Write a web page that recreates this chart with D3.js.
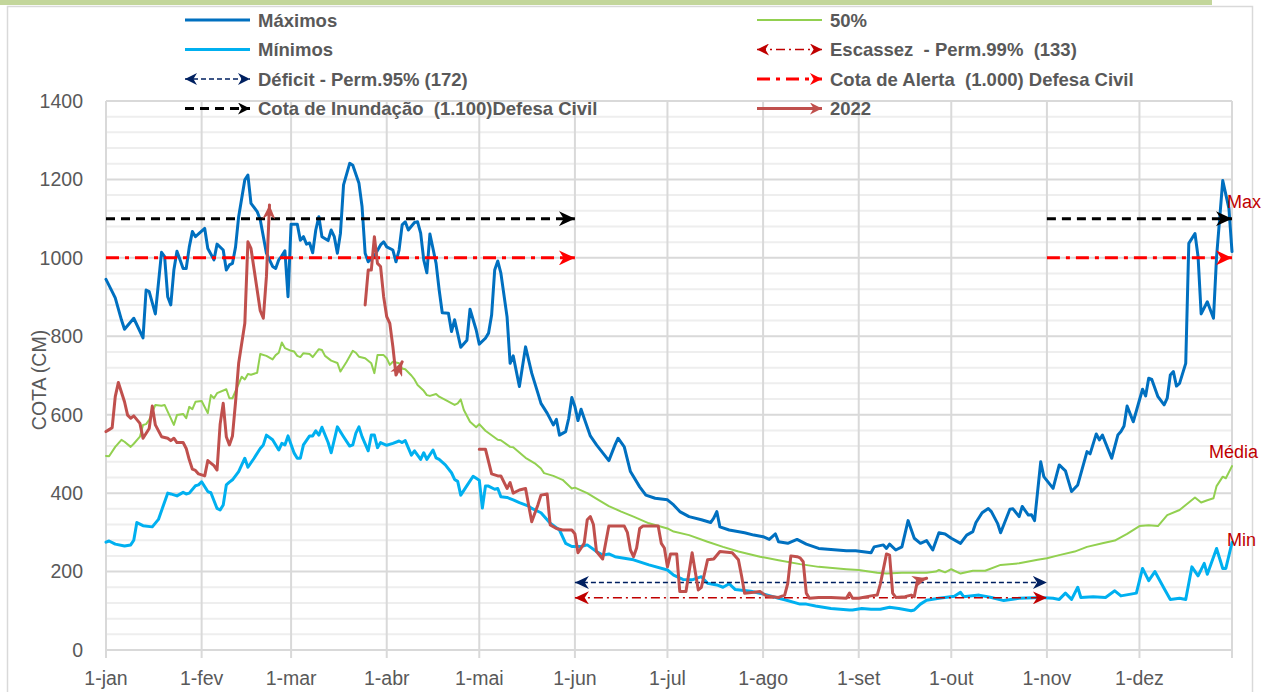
<!DOCTYPE html>
<meta charset="utf-8">
<style>
  html, body { margin: 0; padding: 0; background: #fff; }
  svg { display: block; font-family: "Liberation Sans", Arial, sans-serif; }
  .tick-label { fill: #595959; font-size: 19.5px; }
  .legend-text { fill: #595959; font-size: 18.5px; font-weight: bold; white-space: pre; font-family: "Liberation Sans Narrow", "Arial Narrow", "Liberation Sans", sans-serif; }
  .series { fill: none; stroke-linejoin: round; stroke-linecap: round; }
</style>
<body>
</body>
<script src="https://cdn.jsdelivr.net/npm/d3@7"></script>
<script>

  var width = 1268;
  var height = 692;

  // month labels (pt-BR)
  var meses = ["jan", "fev", "mar", "abr", "mai", "jun", "jul", "ago", "set", "out", "nov", "dez"];
  var yTicks = [0, 200, 400, 600, 800, 1000, 1200, 1400];

  // [day of year, cota cm]
  var maximos = [[0,945],[2,914],[3,898],[5,842],[6,818],[9,846],[12,796],[13,918],[14,914],[16,857],[18,1014],[19,1003],[20,901],[21,880],[22,969],[23,1017],[25,973],[26,973],[27,1028],[28,1067],[29,1054],[32,1075],[33,1024],[35,995],[36,1035],[38,1020],[39,969],[40,982],[41,986],[42,1028],[43,1105],[45,1199],[46,1211],[47,1139],[49,1118],[50,1097],[52,1012],[54,978],[55,973],[56,995],[57,1005],[58,1018],[59,901],[60,1086],[62,1086],[63,1045],[64,1054],[65,1035],[66,1038],[67,1013],[68,1071],[69,1105],[70,1054],[72,1044],[73,1071],[74,1054],[75,1012],[76,1063],[77,1186],[79,1241],[80,1236],[82,1190],[83,1131],[84,1012],[85,990],[87,1005],[89,1033],[90,1041],[91,1028],[93,1020],[94,990],[95,1020],[96,1084],[97,1092],[98,1071],[100,1090],[101,1092],[102,1063],[103,995],[104,962],[105,1061],[107,986],[108,918],[109,860],[111,859],[112,812],[113,842],[115,772],[117,790],[118,869],[120,816],[121,780],[123,795],[124,808],[125,854],[126,969],[127,992],[128,961],[130,850],[131,731],[132,750],[134,672],[136,773],[138,706],[140,655],[141,629],[143,604],[145,574],[146,588],[147,548],[149,557],[150,591],[151,644],[152,621],[153,585],[154,614],[155,591],[157,546],[159,523],[163,483],[165,523],[166,540],[168,518],[170,455],[173,416],[175,395],[178,387],[182,383],[184,370],[186,353],[189,340],[193,332],[196,325],[197,336],[198,353],[199,314],[202,306],[207,299],[210,293],[213,289],[215,282],[217,296],[218,276],[221,272],[224,282],[227,270],[231,259],[240,253],[243,253],[248,248],[249,263],[252,268],[253,259],[254,270],[256,255],[258,263],[260,330],[262,285],[264,272],[266,279],[268,255],[270,299],[272,296],[274,285],[277,272],[279,293],[281,302],[282,325],[284,350],[286,361],[287,353],[289,323],[290,299],[293,359],[294,360],[296,340],[297,366],[299,344],[300,345],[301,330],[303,480],[304,442],[307,412],[309,472],[311,457],[313,404],[315,421],[318,506],[319,500],[321,551],[322,536],[323,548],[326,489],[328,548],[329,557],[330,571],[331,622],[333,582],[336,665],[337,648],[338,693],[339,690],[341,646],[343,625],[344,642],[345,701],[346,710],[347,673],[348,680],[350,731],[351,1037],[353,1062],[354,1003],[355,857],[357,888],[359,846],[360,1003],[362,1197],[364,1126],[365,1016]];

  var minimos = [[0,275],[1,278],[3,270],[6,265],[8,268],[9,280],[10,325],[12,317],[15,314],[17,333],[20,400],[21,398],[23,393],[25,402],[26,398],[27,400],[29,419],[30,421],[31,429],[33,404],[34,401],[36,361],[37,357],[38,370],[39,421],[40,428],[41,434],[43,455],[45,489],[46,466],[48,489],[50,514],[51,523],[52,548],[54,536],[56,510],[57,527],[58,523],[59,546],[61,502],[62,489],[63,489],[64,523],[66,546],[67,546],[68,559],[69,548],[70,568],[72,529],[73,503],[75,569],[77,544],[79,520],[80,523],[81,553],[82,569],[83,544],[85,508],[86,548],[87,548],[88,516],[89,529],[91,522],[93,527],[95,533],[96,529],[97,534],[99,497],[100,508],[102,486],[103,503],[104,486],[106,510],[107,490],[108,486],[110,472],[112,452],[113,435],[114,430],[115,395],[117,419],[119,443],[121,433],[122,362],[123,418],[124,418],[126,410],[127,412],[128,391],[130,389],[132,383],[134,376],[137,367],[138,361],[141,350],[144,323],[147,306],[149,272],[151,264],[154,264],[156,268],[159,251],[161,242],[163,245],[165,238],[171,230],[176,217],[182,204],[184,191],[187,180],[190,179],[193,187],[195,170],[198,166],[200,160],[202,169],[204,154],[209,150],[213,143],[218,132],[220,128],[225,117],[227,117],[230,112],[235,106],[241,102],[242,102],[245,106],[248,104],[251,104],[254,109],[257,106],[261,100],[262,102],[264,117],[266,127],[270,132],[275,137],[277,147],[278,136],[283,140],[287,134],[291,126],[296,132],[303,134],[307,132],[309,129],[311,145],[313,129],[315,160],[316,134],[320,136],[324,134],[327,151],[329,138],[334,145],[336,208],[338,177],[340,200],[343,157],[345,129],[348,132],[350,129],[352,212],[354,189],[356,221],[357,193],[360,259],[362,208],[363,208],[365,274]];

  var mediana = [[0,495],[1,494],[3,518],[5,536],[6,531],[8,518],[9,526],[11,544],[12,574],[13,576],[14,587],[16,625],[18,623],[19,625],[20,608],[22,574],[23,599],[25,602],[26,591],[27,620],[28,614],[29,633],[31,635],[33,604],[34,650],[35,642],[36,655],[39,665],[40,642],[41,642],[44,697],[45,690],[46,704],[47,702],[49,707],[50,755],[52,750],[54,741],[55,752],[56,758],[57,784],[58,770],[60,763],[61,761],[62,750],[63,747],[64,757],[66,755],[67,747],[69,767],[70,765],[71,750],[73,738],[75,732],[76,710],[78,735],[80,763],[81,758],[82,748],[84,744],[86,731],[87,706],[88,752],[90,752],[91,744],[92,727],[93,735],[95,731],[96,718],[97,716],[99,700],[100,690],[101,676],[103,661],[104,650],[105,648],[107,653],[108,646],[110,638],[113,625],[114,629],[115,639],[116,612],[118,582],[120,568],[121,576],[123,559],[127,536],[128,535],[131,518],[132,517],[136,490],[139,476],[141,463],[142,451],[145,444],[148,434],[151,412],[152,414],[156,400],[160,381],[163,367],[167,353],[171,340],[176,323],[182,310],[184,302],[189,293],[195,276],[200,263],[205,251],[212,238],[218,229],[225,219],[231,212],[240,206],[244,204],[250,197],[253,195],[258,197],[262,197],[266,197],[269,200],[270,204],[272,198],[274,206],[277,195],[281,202],[285,202],[290,217],[296,221],[302,230],[305,234],[309,242],[314,251],[318,263],[323,272],[327,279],[331,296],[335,316],[338,318],[341,316],[344,344],[348,357],[350,370],[353,389],[355,376],[357,382],[359,387],[360,418],[362,442],[363,438],[365,469]];

  // 2022 comes in three pieces, each ending with an arrow
  var ano2022a = [[0,557],[1,562],[2,567],[3,646],[4,682],[6,633],[7,599],[8,591],[9,597],[11,578],[12,540],[14,565],[15,622],[16,574],[18,544],[20,540],[21,534],[22,540],[23,529],[25,529],[26,514],[27,485],[28,461],[29,458],[30,449],[32,444],[33,483],[35,470],[36,459],[37,576],[38,629],[39,544],[40,523],[41,546],[42,633],[43,731],[45,833],[46,1041],[47,1024],[49,918],[50,865],[51,846],[52,952],[53,1135]];
  var ano2022b = [[84,880],[85,969],[86,969],[87,1054],[88,986],[89,978],[90,901],[91,850],[92,833],[93,773],[94,701],[96,735]];
  var ano2022c = [[121,512],[123,512],[125,449],[127,444],[128,444],[130,412],[131,427],[132,400],[134,408],[136,412],[138,327],[140,370],[141,395],[143,398],[144,319],[146,310],[148,306],[151,306],[152,296],[153,248],[155,272],[156,332],[157,340],[158,320],[159,251],[161,232],[163,316],[168,316],[169,300],[170,255],[171,238],[172,260],[173,310],[174,316],[179,316],[180,272],[181,260],[182,212],[183,245],[185,245],[186,149],[188,149],[190,248],[191,200],[192,153],[193,160],[195,230],[197,232],[199,251],[203,248],[205,230],[206,190],[207,145],[210,147],[212,149],[214,138],[218,134],[220,140],[221,170],[222,240],[224,238],[225,235],[226,225],[227,145],[228,132],[231,134],[235,134],[240,132],[241,145],[242,132],[244,132],[248,138],[250,140],[251,168],[253,245],[254,242],[255,145],[256,134],[259,136],[261,140],[262,136],[263,176],[266,183]];

  // reference levels (cm) and the day spans they cover
  var cotaInundacao = 1100;
  var cotaAlerta = 1000;
  var deficit95 = 172;
  var escassez99 = 133;
  var spansDefesaCivil = [[0, 152], [305, 365]];
  var spanPermanencia = [152, 305];

  var legendLeft = [
      {label: "Máximos", kind: "max"},
      {label: "Mínimos", kind: "min"},
      {label: "Déficit - Perm.95% (172)", kind: "def"},
      {label: "Cota de Inundação  (1.100)Defesa Civil", kind: "inund"}
  ];
  var legendRight = [
      {label: "50%", kind: "med"},
      {label: "Escassez  - Perm.99%  (133)", kind: "esc"},
      {label: "Cota de Alerta  (1.000) Defesa Civil", kind: "alerta"},
      {label: "2022", kind: "ano"}
  ];

  var styles = {
      max:    {color: "#0070C0", width: 3},
      min:    {color: "#00B0F0", width: 3},
      med:    {color: "#92D050", width: 2},
      ano:    {color: "#C0504D", width: 3},
      inund:  {color: "#000000", width: 3, dash: "9,6"},
      alerta: {color: "#FF0000", width: 3, dash: "13,6,4,6"},
      def:    {color: "#002060", width: 1.5, dash: "5,3"},
      esc:    {color: "#C00000", width: 1.5, dash: "9,4,2,4"}
  };

  var ano0 = new Date(2020, 0, 1);
  function dia(d) { return new Date(2020, 0, 1 + d); }

  var x = d3.scaleTime()
      .domain([ano0, new Date(2020, 11, 31)])
      .range([106, 1232]);
  var y = d3.scaleLinear()
      .domain([0, 1400])
      .range([650, 101]);

  var svg = d3.select("body").append("svg")
      .attr("width", width)
      .attr("height", height);

  svg.append("rect").attr("width", width).attr("height", height).attr("fill", "#fff");
  svg.append("rect").attr("x", 0).attr("y", 0).attr("width", 1212).attr("height", 5).attr("fill", "#C3D69B");
  svg.append("rect")
      .attr("x", 7.5).attr("y", 6.5).attr("width", 1245).attr("height", 700)
      .attr("fill", "none").attr("stroke", "#D9D9D9").attr("stroke-width", 1.5);

  /* arrow markers */
  var defs = svg.append("defs");
  function marker(id, color, len, half) {
      defs.append("marker")
	  .attr("id", id)
	  .attr("markerUnits", "userSpaceOnUse")
	  .attr("viewBox", (-len) + " " + (-half) + " " + len + " " + (2 * half))
	  .attr("refX", 0).attr("refY", 0)
	  .attr("markerWidth", len).attr("markerHeight", 2 * half)
	  .attr("orient", "auto-start-reverse")
	.append("path")
	  .attr("d", "M0,0 L" + (-len) + "," + (-half) + " L" + (-len * 0.7) + ",0 L" + (-len) + "," + half + " Z")
	  .attr("fill", color);
  }
  marker("arr-inund", "#000000", 16, 7.5);
  marker("arr-alerta", "#FF0000", 16, 7.5);
  marker("arr-def", "#002060", 14, 6.5);
  marker("arr-esc", "#C00000", 14, 6.5);
  marker("arr-ano", "#C0504D", 14, 6.5);
  marker("arr-lg-inund", "#000000", 12, 6);
  marker("arr-lg-alerta", "#FF0000", 12, 6);
  marker("arr-lg-def", "#002060", 12, 6);
  marker("arr-lg-esc", "#C00000", 12, 6);
  marker("arr-lg-ano", "#C0504D", 12, 6);

  /* grid */
  var grid = svg.append("g");
  var minor = d3.range(0, 1401, 40).filter(v => v % 200 != 0);
  grid.selectAll(".minor").data(minor).enter().append("line")
      .attr("x1", 106).attr("x2", 1232)
      .attr("y1", d => y(d)).attr("y2", d => y(d))
      .attr("stroke", "#EEEEEE").attr("stroke-width", 2);
  grid.selectAll(".major").data(yTicks).enter().append("line")
      .attr("x1", 106).attr("x2", 1232)
      .attr("y1", d => y(d)).attr("y2", d => y(d))
      .attr("stroke", "#D9D9D9").attr("stroke-width", 2);

  var monthStarts = d3.timeMonth.range(ano0, new Date(2021, 0, 1));
  var vlines = monthStarts.concat([new Date(2020, 11, 31)]);
  grid.selectAll(".vline").data(vlines).enter().append("line")
      .attr("x1", d => x(d)).attr("x2", d => x(d))
      .attr("y1", 101).attr("y2", 658)
      .attr("stroke", "#D9D9D9").attr("stroke-width", 2);

  /* axes labels */
  svg.append("g").selectAll("text").data(yTicks).enter().append("text")
      .attr("class", "tick-label")
      .attr("x", 83).attr("y", d => y(d))
      .attr("dy", "0.35em")
      .attr("text-anchor", "end")
      .text(d => d);

  svg.append("g").selectAll("text").data(monthStarts).enter().append("text")
      .attr("class", "tick-label")
      .attr("x", d => x(d)).attr("y", 685)
      .attr("text-anchor", "middle")
      .text(d => "1-" + meses[d.getMonth()]);

  svg.append("text")
      .attr("class", "tick-label")
      .attr("transform", "translate(46,380) rotate(-90)")
      .attr("text-anchor", "middle")
      .text("COTA (CM)");

  /* series */
  var line = d3.line()
      .x(d => x(dia(d[0])))
      .y(d => y(d[1]));

  var plot = svg.append("g");

  plot.append("path").datum(mediana).attr("class", "series")
      .attr("d", line).attr("stroke", styles.med.color).attr("stroke-width", styles.med.width);
  plot.append("path").datum(minimos).attr("class", "series")
      .attr("d", line).attr("stroke", styles.min.color).attr("stroke-width", styles.min.width);
  plot.append("path").datum(maximos).attr("class", "series")
      .attr("d", line).attr("stroke", styles.max.color).attr("stroke-width", styles.max.width);

  // reference levels
  spansDefesaCivil.forEach(function(s) {
      plot.append("path").attr("class", "series")
	  .attr("d", line([[s[0], cotaInundacao], [s[1], cotaInundacao]]))
	  .attr("stroke", styles.inund.color).attr("stroke-width", styles.inund.width)
	  .attr("stroke-dasharray", styles.inund.dash).style("stroke-linecap", "butt")
	  .attr("marker-end", "url(#arr-inund)");
      plot.append("path").attr("class", "series")
	  .attr("d", line([[s[0], cotaAlerta], [s[1], cotaAlerta]]))
	  .attr("stroke", styles.alerta.color).attr("stroke-width", styles.alerta.width)
	  .attr("stroke-dasharray", styles.alerta.dash).style("stroke-linecap", "butt")
	  .attr("marker-end", "url(#arr-alerta)");
  });
  plot.append("path").attr("class", "series")
      .attr("d", line([[spanPermanencia[0], deficit95], [spanPermanencia[1], deficit95]]))
      .attr("stroke", styles.def.color).attr("stroke-width", styles.def.width)
      .attr("stroke-dasharray", styles.def.dash).style("stroke-linecap", "butt")
      .attr("marker-start", "url(#arr-def)").attr("marker-end", "url(#arr-def)");
  plot.append("path").attr("class", "series")
      .attr("d", line([[spanPermanencia[0], escassez99], [spanPermanencia[1], escassez99]]))
      .attr("stroke", styles.esc.color).attr("stroke-width", styles.esc.width)
      .attr("stroke-dasharray", styles.esc.dash).style("stroke-linecap", "butt")
      .attr("marker-start", "url(#arr-esc)").attr("marker-end", "url(#arr-esc)");

  [ano2022a, ano2022b, ano2022c].forEach(function(seg) {
      plot.append("path").datum(seg).attr("class", "series")
	  .attr("d", line).attr("stroke", styles.ano.color).attr("stroke-width", styles.ano.width)
	  .attr("marker-end", "url(#arr-ano)");
  });

  /* Max / Média / Min tags */
  var tags = [{t: "Max", x: 1227, y: 208}, {t: "Média", x: 1209, y: 458}, {t: "Min", x: 1227, y: 546}];
  svg.append("g").selectAll("text").data(tags).enter().append("text")
      .attr("x", d => d.x).attr("y", d => d.y)
      .attr("fill", "#C00000").attr("font-size", "18px")
      .text(d => d.t);

  /* legend */
  function legendColumn(items, x0, x1, tx) {
      var g = svg.append("g");
      items.forEach(function(it, i) {
	  var ly = 20 + i * 29.5;
	  var st = styles[it.kind];
	  var p = g.append("line")
	      .attr("x1", x0).attr("x2", x1).attr("y1", ly).attr("y2", ly)
	      .attr("stroke", st.color).attr("stroke-width", st.width);
	  if (st.dash) p.attr("stroke-dasharray", st.dash);
	  if (it.kind == "def" || it.kind == "esc") {
	      p.attr("marker-start", "url(#arr-lg-" + it.kind + ")").attr("marker-end", "url(#arr-lg-" + it.kind + ")");
	  } else if (it.kind == "inund" || it.kind == "alerta" || it.kind == "ano") {
	      p.attr("marker-end", "url(#arr-lg-" + it.kind + ")");
	  }
	  g.append("text")
	      .attr("class", "legend-text")
	      .attr("x", tx).attr("y", ly).attr("dy", "0.36em")
	      .text(it.label);
      });
  }
  legendColumn(legendLeft, 185, 250, 258);
  legendColumn(legendRight, 757, 822, 830);

</script>
